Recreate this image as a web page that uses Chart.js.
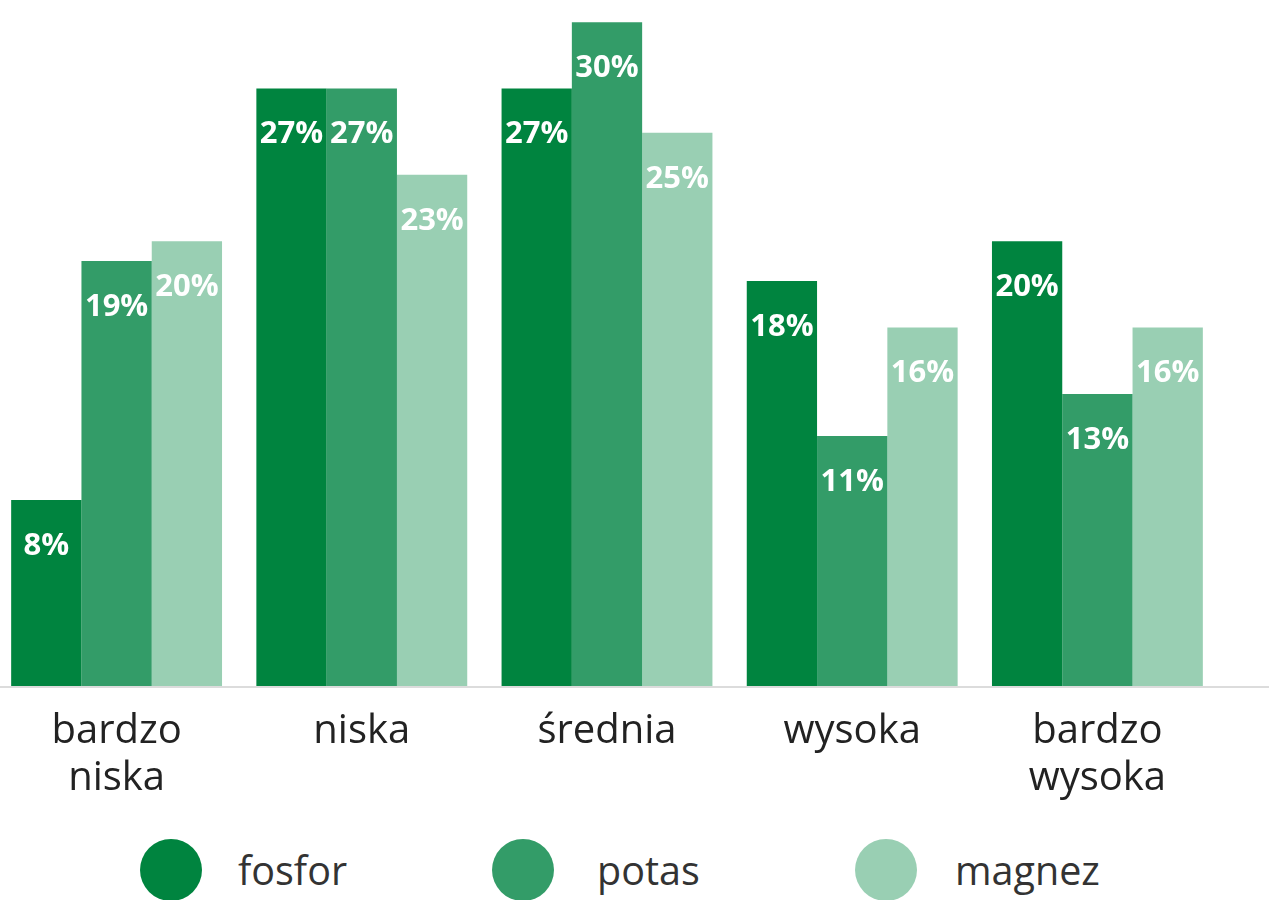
<!DOCTYPE html>
<html><head><meta charset="utf-8">
<script src="https://cdn.jsdelivr.net/npm/chart.js@4/dist/chart.umd.min.js"></script>
<style>
html,body{margin:0;padding:0;background:#fff;overflow:hidden;width:1269px;height:900px;}
#wrap{position:absolute;left:-6px;top:0;width:1275px;height:830px;}
.dot{position:absolute;width:62px;height:62px;border-radius:50%;top:839px;}
.lt{position:absolute;top:846px;font-family:"Open Sans",sans-serif;font-size:39.5px;color:#333;line-height:48px;}
</style></head><body>
<div id="wrap"><canvas id="c"></canvas></div>
<div id="legend"></div>
<script>
const categories = [['bardzo','niska'], 'niska', 'średnia', 'wysoka', ['bardzo','wysoka']];
const seriesNames = ['fosfor', 'potas', 'magnez'];
const fosfor = [8.4, 27.0, 27.0, 18.3, 20.1];
const potas  = [19.2, 27.0, 30.0, 11.3, 13.2];
const magnez = [20.1, 23.1, 25.0, 16.2, 16.2];
const colors = ['#00843F', '#339C68', '#99CFB3'];

const legendPos = [{dot:140, text:238}, {dot:492, text:597}, {dot:855, text:955}];
const lg = document.getElementById('legend');
seriesNames.forEach((n,i)=>{
  const d=document.createElement('div');d.className='dot';d.style.left=legendPos[i].dot+'px';d.style.background=colors[i];lg.appendChild(d);
  const t=document.createElement('div');t.className='lt';t.style.left=legendPos[i].text+'px';t.textContent=n;lg.appendChild(t);
});

const labelPlugin = {
  id:'labels',
  afterDatasetsDraw(chart){
    const ctx=chart.ctx;
    ctx.save();
    ctx.font='700 31px "Open Sans", sans-serif';
    ctx.fillStyle='#fff';
    ctx.textAlign='center';ctx.textBaseline='middle';
    chart.data.datasets.forEach((ds,di)=>{
      chart.getDatasetMeta(di).data.forEach((bar,i)=>{
        ctx.fillText(Math.round(ds.data[i])+'%', bar.x, bar.y+46);
      });
    });
    ctx.restore();
  },
  beforeDatasetsDraw(chart){
    const ctx=chart.ctx;const y=chart.scales.y.getPixelForValue(0);
    ctx.save();ctx.strokeStyle='#dcdcdc';ctx.lineWidth=2;
    ctx.beginPath();ctx.moveTo(0,y+1);ctx.lineTo(chart.width,y+1);ctx.stroke();ctx.restore();
  }
};

new Chart(document.getElementById('c'), {
  type:'bar',
  data:{
    labels:categories,
    datasets:[fosfor,potas,magnez].map((d,i)=>({label:seriesNames[i],data:d,backgroundColor:colors[i],borderWidth:0,categoryPercentage:0.86,barPercentage:1}))
  },
  options:{
    responsive:true,maintainAspectRatio:false,animation:false,
    layout:{padding:{left:0,right:49,top:0,bottom:0}},
    plugins:{legend:{display:false},tooltip:{enabled:false}},
    scales:{
      y:{display:false,min:0,max:31},
      x:{
        grid:{display:false},
        border:{display:false},
        ticks:{color:'#222',font:{family:'"Open Sans", sans-serif',size:40,lineHeight:1.18},padding:14,maxRotation:0,autoSkip:false},
        afterFit(s){s.height=144;}
      }
    }
  },
  plugins:[labelPlugin]
});
</script>
</body></html>
